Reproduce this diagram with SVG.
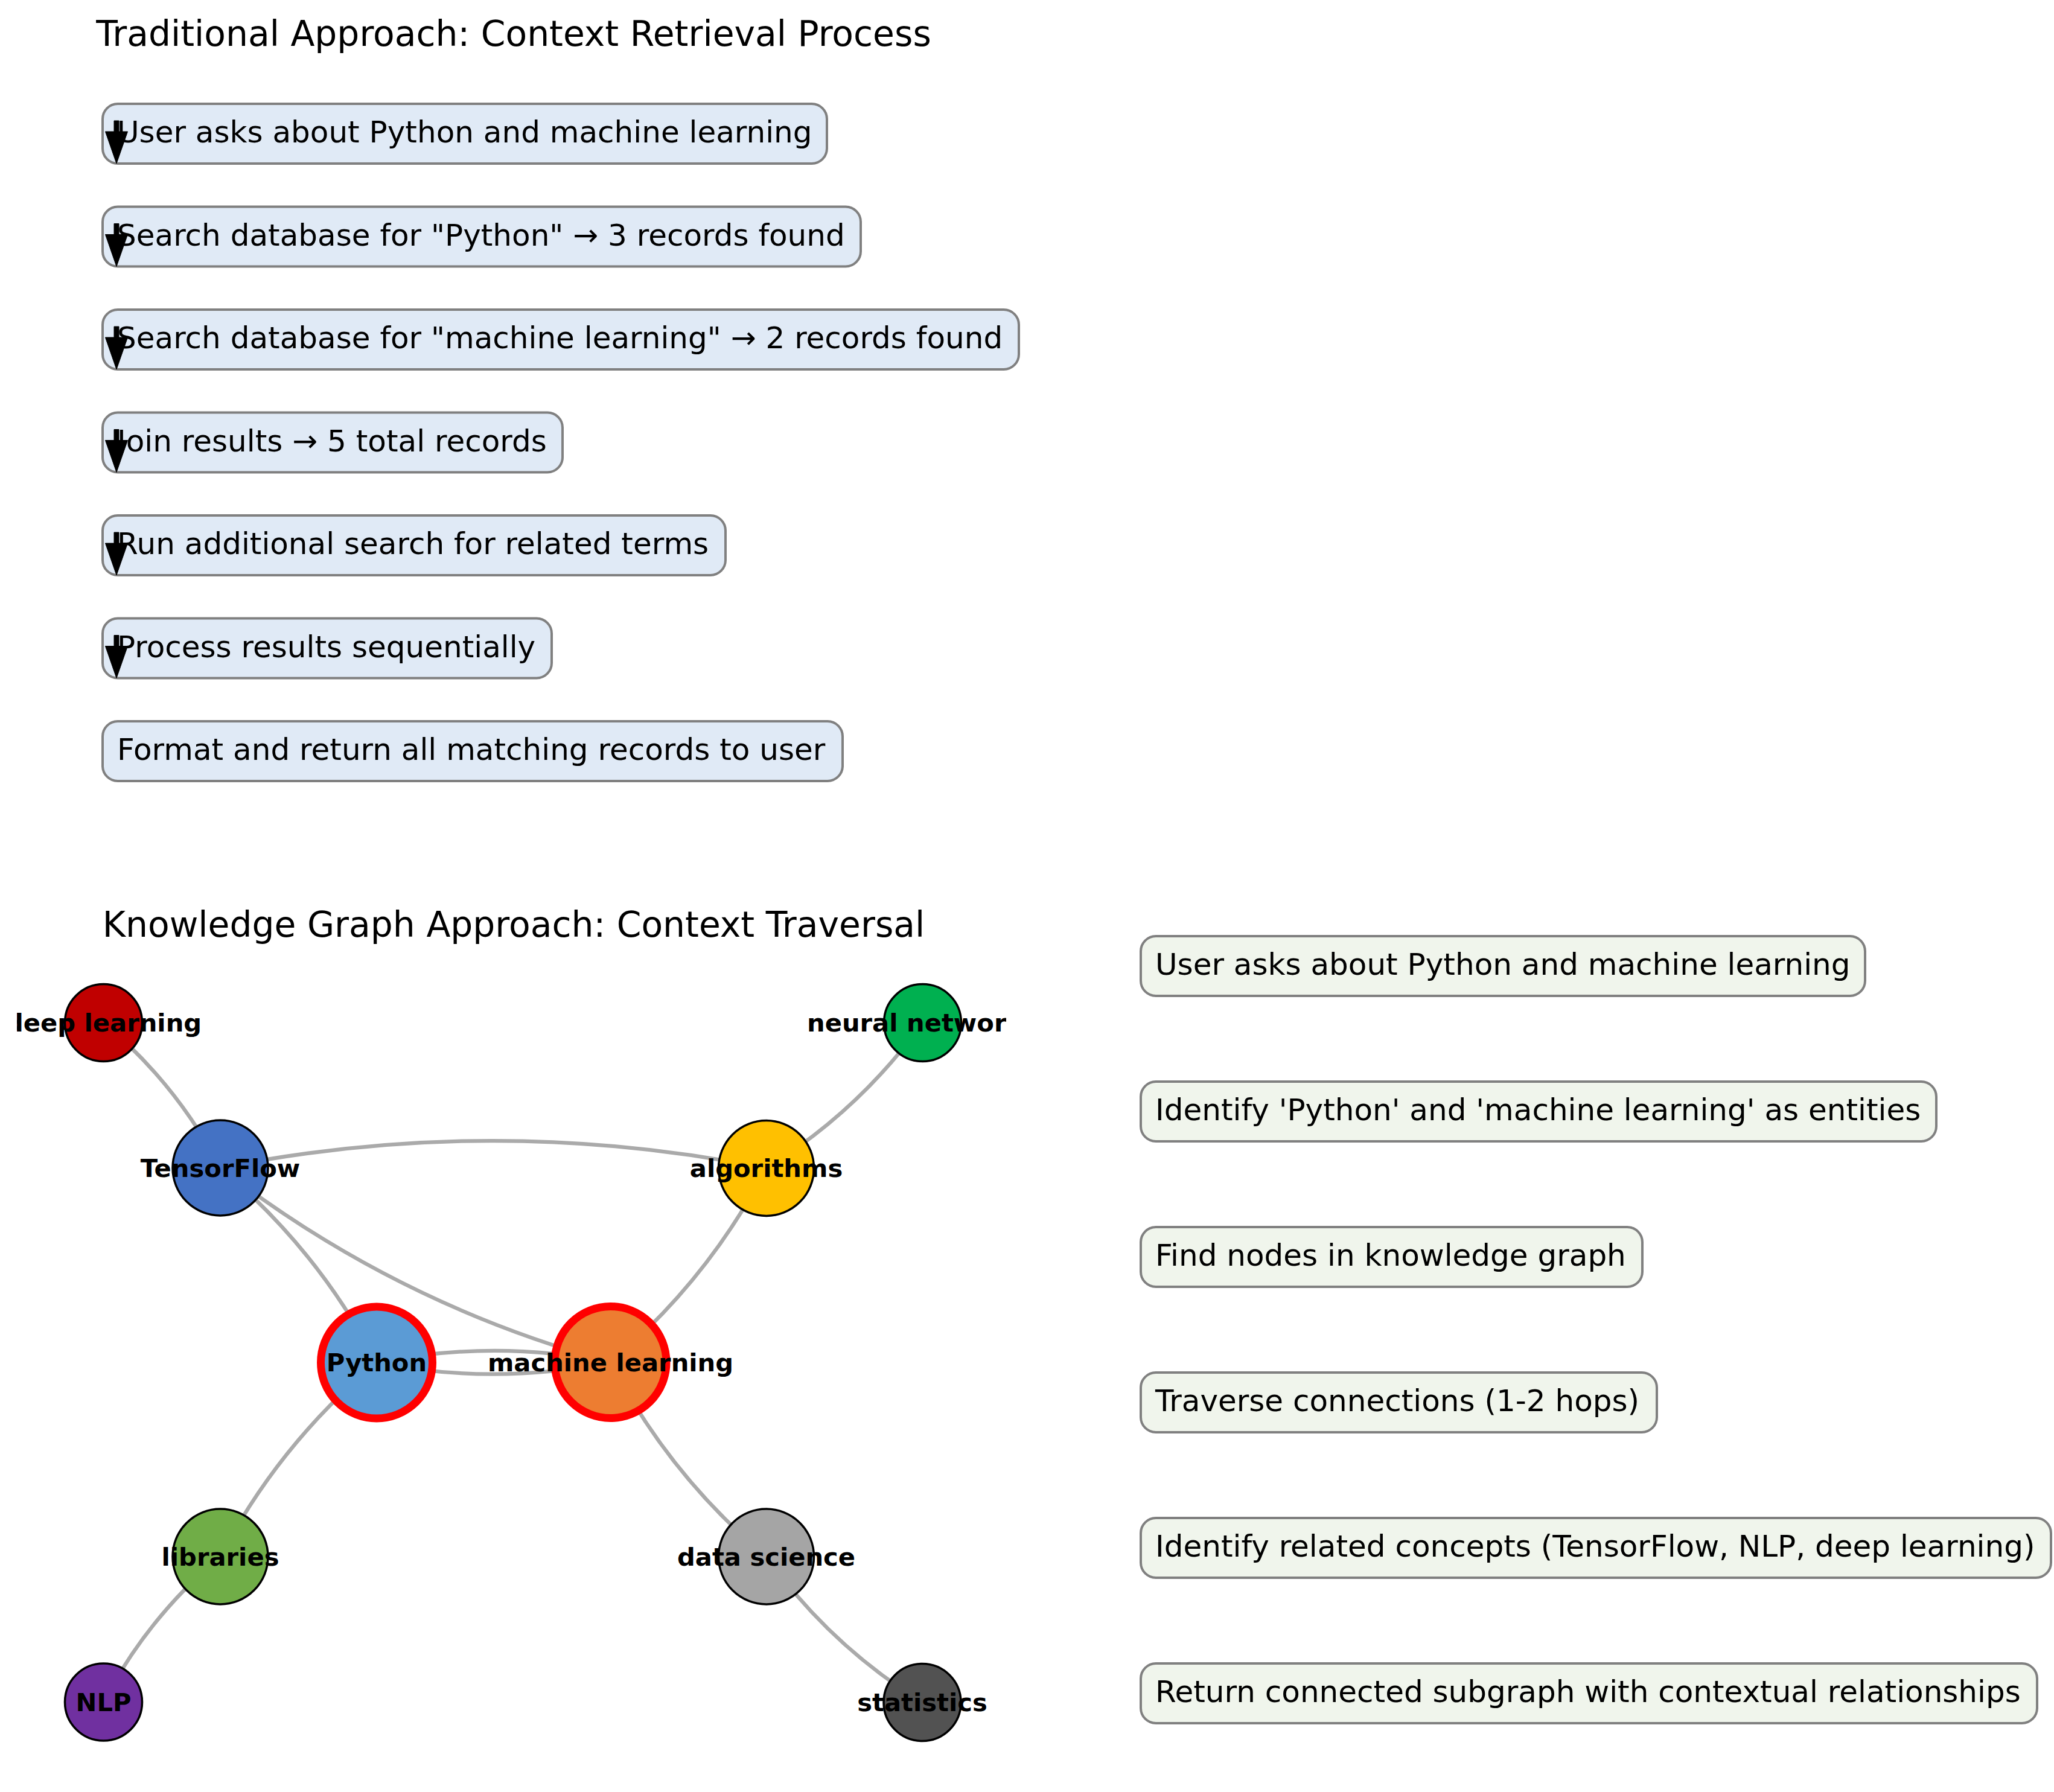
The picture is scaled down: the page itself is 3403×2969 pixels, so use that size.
<svg xmlns="http://www.w3.org/2000/svg" xmlns:xlink="http://www.w3.org/1999/xlink" width="3403" height="2969" viewBox="0 0 3403 2969">
<style>
  text { font-family: 'DejaVu Sans', 'Liberation Sans', sans-serif; fill: #000; }
  .title { font-size: 58.33px; text-anchor: middle; }
  .step { font-size: 50px; }
  .box-t { fill: #E0EAF6; stroke: #808080; stroke-width: 4; }
  .box-k { fill: #F0F5EC; stroke: #808080; stroke-width: 4; }
  .edge { fill: none; stroke: #AAAAAA; stroke-width: 6.25; }
  .node { stroke: #000; stroke-width: 3.5; }
  .hl { stroke: #FF0000; stroke-width: 13; }
  .lbl { font-size: 41.67px; font-weight: bold; text-anchor: middle; }
  .arrow { fill: #000; stroke: #000; stroke-width: 1; }
</style>
<defs>
  <polygon id="downArrow" class="arrow" points="0,0 8,0 8,18 22.5,18 4,71 -14.5,18 0,18"/>
  <clipPath id="axClip"><rect x="28" y="1560" width="1639" height="1400"/></clipPath>
</defs>
<rect width="3403" height="2969" fill="#FFFFFF"/>

<!-- Traditional approach -->
<text class="title" x="851" y="76">Traditional Approach: Context Retrieval Process</text>

<g id="trad-step-1"><rect class="box-t" x="170" y="172" width="1200" height="99" rx="25"/><text class="step" x="194" y="236">User asks about Python and machine learning</text></g>
<g id="trad-step-2"><rect class="box-t" x="170" y="342.5" width="1256" height="99" rx="25"/><text class="step" x="194" y="406.5">Search database for "Python" → 3 records found</text></g>
<g id="trad-step-3"><rect class="box-t" x="170" y="513" width="1518" height="99" rx="25"/><text class="step" x="194" y="577">Search database for "machine learning" → 2 records found</text></g>
<g id="trad-step-4"><rect class="box-t" x="170" y="683.5" width="762" height="99" rx="25"/><text class="step" x="194" y="747.5">Join results → 5 total records</text></g>
<g id="trad-step-5"><rect class="box-t" x="170" y="854" width="1032" height="99" rx="25"/><text class="step" x="194" y="918">Run additional search for related terms</text></g>
<g id="trad-step-6"><rect class="box-t" x="170" y="1024.5" width="744" height="99" rx="25"/><text class="step" x="194" y="1088.5">Process results sequentially</text></g>
<g id="trad-step-7"><rect class="box-t" x="170" y="1195" width="1226" height="99" rx="25"/><text class="step" x="194" y="1259">Format and return all matching records to user</text></g>

<g id="trad-arrows">
  <use xlink:href="#downArrow" href="#downArrow" x="189" y="200"/>
  <use xlink:href="#downArrow" href="#downArrow" x="189" y="370.5"/>
  <use xlink:href="#downArrow" href="#downArrow" x="189" y="541"/>
  <use xlink:href="#downArrow" href="#downArrow" x="189" y="711.5"/>
  <use xlink:href="#downArrow" href="#downArrow" x="189" y="882"/>
  <use xlink:href="#downArrow" href="#downArrow" x="189" y="1052.5"/>
</g>

<!-- Knowledge graph approach -->
<text class="title" x="851" y="1552">Knowledge Graph Approach: Context Traversal</text>

<g id="connectors">
  <path class="edge" d="M365,1935 Q292.3,1795.4 171.5,1694.5"/>
  <path class="edge" d="M1269.5,1935.5 Q1423.1,1840.9 1528.5,1694.5"/>
  <path class="edge" d="M1269.5,1935.5 Q817.3,1844.8 365,1935"/>
  <path class="edge" d="M624,2257.5 Q526.75,2070.35 365,1935"/>
  <path class="edge" d="M365,1935 Q656.05,2160.65 1011.5,2257"/>
  <path class="edge" d="M1011.5,2257 Q1172.65,2122.05 1269.5,1935.5"/>
  <path class="edge" d="M624,2257.5 Q817.8,2296 1011.5,2257"/>
  <path class="edge" d="M1011.5,2257 Q817.7,2218.5 624,2257.5"/>
  <path class="edge" d="M624,2257.5 Q462.35,2392.35 365,2579"/>
  <path class="edge" d="M365,2579 Q244.15,2680.15 171.5,2820"/>
  <path class="edge" d="M1011.5,2257 Q1108.3,2443.8 1269.5,2579"/>
  <path class="edge" d="M1269.5,2579 Q1374.6,2725.6 1528,2820.5"/>
</g>

<g id="node-deep-learning"><circle class="node" cx="171.5" cy="1694.5" r="64" fill="#C00000"/><text class="lbl" x="171.5" y="1709" clip-path="url(#axClip)">deep learning</text></g>
<g id="node-neural-networks"><circle class="node" cx="1528.5" cy="1694.5" r="64" fill="#00B050"/><text class="lbl" x="1528.5" y="1709" clip-path="url(#axClip)">neural networks</text></g>
<g id="node-tensorflow"><circle class="node" cx="365" cy="1935" r="79" fill="#4472C4"/><text class="lbl" x="365" y="1950">TensorFlow</text></g>
<g id="node-algorithms"><circle class="node" cx="1269.5" cy="1935.5" r="79" fill="#FFC000"/><text class="lbl" x="1269.5" y="1950">algorithms</text></g>
<g id="node-python"><circle class="hl" cx="624" cy="2257.5" r="92.5" fill="#5B9BD5"/><text class="lbl" x="624" y="2272">Python</text></g>
<g id="node-machine-learning"><circle class="hl" cx="1011.5" cy="2257" r="92.5" fill="#ED7D31"/><text class="lbl" x="1011.5" y="2272">machine learning</text></g>
<g id="node-libraries"><circle class="node" cx="365" cy="2579" r="79" fill="#70AD47"/><text class="lbl" x="365" y="2594">libraries</text></g>
<g id="node-data-science"><circle class="node" cx="1269.5" cy="2579" r="79" fill="#A5A5A5"/><text class="lbl" x="1269.5" y="2594">data science</text></g>
<g id="node-nlp"><circle class="node" cx="171.5" cy="2820" r="64" fill="#7030A0"/><text class="lbl" x="171.5" y="2835">NLP</text></g>
<g id="node-statistics"><circle class="node" cx="1528" cy="2820.5" r="64" fill="#525252"/><text class="lbl" x="1528" y="2835">statistics</text></g>

<g id="kg-step-1"><rect class="box-k" x="1890" y="1551" width="1200" height="99" rx="25"/><text class="step" x="1914" y="1615">User asks about Python and machine learning</text></g>
<g id="kg-step-2"><rect class="box-k" x="1890" y="1792" width="1318" height="99" rx="25"/><text class="step" x="1914" y="1856">Identify 'Python' and 'machine learning' as entities</text></g>
<g id="kg-step-3"><rect class="box-k" x="1890" y="2033" width="831" height="99" rx="25"/><text class="step" x="1914" y="2097">Find nodes in knowledge graph</text></g>
<g id="kg-step-4"><rect class="box-k" x="1890" y="2274" width="855" height="99" rx="25"/><text class="step" x="1914" y="2338">Traverse connections (1-2 hops)</text></g>
<g id="kg-step-5"><rect class="box-k" x="1890" y="2515" width="1508" height="99" rx="25"/><text class="step" x="1914" y="2579">Identify related concepts (TensorFlow, NLP, deep learning)</text></g>
<g id="kg-step-6"><rect class="box-k" x="1890" y="2756" width="1485" height="99" rx="25"/><text class="step" x="1914" y="2820">Return connected subgraph with contextual relationships</text></g>
</svg>
